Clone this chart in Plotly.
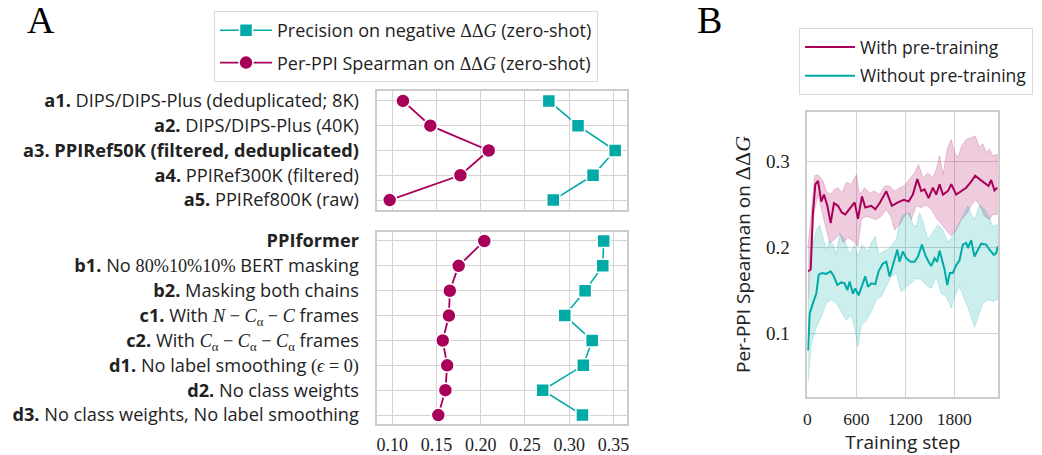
import plotly.graph_objects as go

# ---------------- data: panel A ----------------
upper_rows = [0, 1, 2, 3, 4]
lower_rows = [0, 1, 2, 3, 4, 5, 6, 7]

SERIF = "Liberation Serif"
def S(t):
    return "<span style='font-family:Liberation Serif'>" + t + "</span>"

upper_labels = [
    "<b>a1.</b> DIPS/DIPS-Plus (deduplicated; 8K)",
    "<b>a2.</b> DIPS/DIPS-Plus (40K)",
    "<b>a3. PPIRef50K (filtered, deduplicated)</b>",
    "<b>a4.</b> PPIRef300K (filtered)",
    "<b>a5.</b> PPIRef800K (raw)",
]
lower_labels = [
    "<b>PPIformer</b>",
    "<b>b1.</b> No " + S("80%10%10%") + " BERT masking",
    "<b>b2.</b> Masking both chains",
    "<b>c1.</b> With " + S("<i>N</i> − <i>C</i><sub>α</sub> − <i>C</i>") + " frames",
    "<b>c2.</b> With " + S("<i>C</i><sub>α</sub> − <i>C</i><sub>α</sub> − <i>C</i><sub>α</sub>") + " frames",
    "<b>d1.</b> No label smoothing " + S("(<i>ϵ</i> = 0)"),
    "<b>d2.</b> No class weights",
    "<b>d3.</b> No class weights, No label smoothing",
]

upper_spearman = [0.112, 0.143, 0.209, 0.177, 0.097]
upper_precision = [0.277, 0.310, 0.352, 0.327, 0.282]
lower_spearman = [0.204, 0.175, 0.165, 0.164, 0.157, 0.162, 0.160, 0.152]
lower_precision = [0.339, 0.338, 0.318, 0.295, 0.326, 0.316, 0.270, 0.315]

x_ticks_A = [0.10, 0.15, 0.20, 0.25, 0.30, 0.35]

# ---------------- data: panel B ----------------
pre_x = [8, 41, 69, 98, 131, 171, 204, 245, 286, 326, 375, 424, 465, 518, 579, 620, 669, 710, 783, 832,
         885, 967, 1036, 1110, 1183, 1240, 1293, 1347, 1396, 1436, 1485, 1538, 1579, 1620, 1661, 1722,
         1763, 1824, 1885, 1946, 2007, 2056, 2109, 2171, 2220, 2252, 2293, 2326]
pre_y = [0.172, 0.174, 0.240, 0.273, 0.277, 0.253, 0.261, 0.248, 0.228, 0.251, 0.248, 0.240, 0.238, 0.244,
         0.252, 0.233, 0.259, 0.246, 0.248, 0.244, 0.251, 0.265, 0.248, 0.252, 0.255, 0.253, 0.261, 0.279,
         0.265, 0.267, 0.257, 0.269, 0.261, 0.273, 0.261, 0.265, 0.273, 0.261, 0.265, 0.269, 0.276, 0.283,
         0.279, 0.275, 0.271, 0.278, 0.266, 0.269]
pre_hi_x = [8, 90, 131, 192, 233, 286, 335, 375, 424, 477, 538, 600, 640, 702, 763, 824, 885, 947, 1008,
            1069, 1130, 1191, 1253, 1314, 1363, 1416, 1477, 1538, 1579, 1620, 1661, 1714, 1763, 1804, 1844,
            1893, 1946, 2007, 2056, 2109, 2150, 2191, 2232, 2272, 2326]
pre_hi_y = [0.200, 0.283, 0.284, 0.277, 0.265, 0.261, 0.267, 0.269, 0.263, 0.275, 0.273, 0.284, 0.261,
            0.269, 0.263, 0.265, 0.261, 0.271, 0.271, 0.265, 0.269, 0.271, 0.279, 0.286, 0.296, 0.281,
            0.286, 0.281, 0.290, 0.306, 0.284, 0.314, 0.325, 0.310, 0.304, 0.318, 0.325, 0.327, 0.329,
            0.316, 0.320, 0.310, 0.314, 0.306, 0.308]
pre_lo_x = [8, 49, 90, 131, 192, 233, 274, 335, 396, 437, 498, 559, 620, 661, 722, 783, 845, 906, 967,
            1028, 1069, 1130, 1191, 1232, 1273, 1334, 1396, 1457, 1518, 1579, 1640, 1701, 1763, 1824, 1885,
            1946, 2007, 2056, 2109, 2171, 2232, 2272, 2326]
pre_lo_y = [0.140, 0.216, 0.244, 0.261, 0.236, 0.220, 0.205, 0.209, 0.216, 0.205, 0.211, 0.207, 0.201,
            0.232, 0.236, 0.234, 0.232, 0.236, 0.244, 0.234, 0.220, 0.226, 0.236, 0.240, 0.232, 0.248,
            0.246, 0.249, 0.244, 0.234, 0.226, 0.220, 0.213, 0.220, 0.232, 0.238, 0.248, 0.255, 0.249,
            0.236, 0.232, 0.238, 0.238]

nopre_x = [8, 29, 69, 110, 139, 180, 233, 286, 326, 367, 416, 457, 490, 518, 559, 588, 628, 661, 710, 743,
           783, 832, 873, 926, 967, 1008, 1061, 1102, 1130, 1171, 1212, 1265, 1314, 1355, 1404, 1444, 1485,
           1518, 1559, 1591, 1620, 1648, 1681, 1714, 1746, 1783, 1824, 1865, 1905, 1946, 1967, 2007, 2048,
           2089, 2130, 2191, 2232, 2285, 2313, 2334]
nopre_y = [0.080, 0.123, 0.135, 0.146, 0.168, 0.170, 0.169, 0.172, 0.166, 0.156, 0.159, 0.158, 0.150, 0.160,
           0.146, 0.152, 0.144, 0.152, 0.166, 0.154, 0.158, 0.157, 0.172, 0.181, 0.183, 0.166, 0.185, 0.197,
           0.183, 0.195, 0.187, 0.183, 0.183, 0.189, 0.203, 0.191, 0.183, 0.178, 0.187, 0.183, 0.196, 0.185,
           0.174, 0.156, 0.170, 0.170, 0.179, 0.185, 0.203, 0.205, 0.199, 0.208, 0.189, 0.197, 0.204, 0.203,
           0.197, 0.191, 0.193, 0.201]
nopre_hi_x = [8, 49, 110, 151, 192, 233, 274, 314, 355, 396, 457, 518, 579, 620, 669, 743, 783, 832, 873,
              926, 987, 1036, 1089, 1130, 1171, 1212, 1253, 1293, 1334, 1375, 1416, 1477, 1538, 1600, 1661,
              1722, 1783, 1844, 1905, 1967, 2007, 2048, 2109, 2171, 2232, 2272, 2326]
nopre_hi_y = [0.127, 0.197, 0.220, 0.226, 0.211, 0.197, 0.207, 0.203, 0.191, 0.216, 0.209, 0.191, 0.203,
              0.189, 0.203, 0.195, 0.205, 0.213, 0.191, 0.195, 0.197, 0.203, 0.209, 0.228, 0.238, 0.238,
              0.240, 0.226, 0.224, 0.240, 0.230, 0.209, 0.218, 0.226, 0.220, 0.205, 0.213, 0.224, 0.236,
              0.248, 0.238, 0.232, 0.249, 0.244, 0.234, 0.224, 0.226]
nopre_lo_x = [8, 49, 110, 171, 233, 294, 355, 416, 477, 538, 579, 620, 661, 722, 783, 845, 906, 967, 1028,
              1089, 1150, 1212, 1273, 1334, 1396, 1457, 1518, 1579, 1640, 1701, 1763, 1804, 1865, 1926, 1987,
              2048, 2089, 2150, 2211, 2272, 2326]
nopre_lo_y = [0.043, 0.088, 0.107, 0.119, 0.135, 0.139, 0.135, 0.125, 0.115, 0.121, 0.107, 0.084, 0.109,
              0.115, 0.125, 0.139, 0.143, 0.154, 0.166, 0.170, 0.148, 0.154, 0.158, 0.164, 0.162, 0.156,
              0.152, 0.166, 0.146, 0.143, 0.129, 0.143, 0.154, 0.139, 0.125, 0.107, 0.119, 0.135, 0.139,
              0.137, 0.139]

x_ticks_B = [0, 600, 1200, 1800]
y_ticks_B = [0.1, 0.2, 0.3]

# ---------------- styling ----------------
MAG = "#a8005a"
CYA = "#00aba7"
GRID = "#d3d3d3"
EDGE = "#cccccc"
SANS = "Open Sans"
TXT = "#222222"

fig = go.Figure()

# Panel A: upper
fig.add_trace(go.Scatter(x=upper_precision, y=upper_rows, mode="lines+markers",
                         name="Precision on negative " + S("ΔΔ<i>G</i>") + " (zero-shot)",
                         line=dict(color=CYA, width=1.6), legendgroup="prec",
                         marker=dict(symbol="square", size=13, color=CYA, line=dict(color="white", width=1.5)),
                         xaxis="x", yaxis="y", legend="legend"))
fig.add_trace(go.Scatter(x=upper_spearman, y=upper_rows, mode="lines+markers",
                         name="Per-PPI Spearman on " + S("ΔΔ<i>G</i>") + " (zero-shot)",
                         line=dict(color=MAG, width=1.8), legendgroup="spear",
                         marker=dict(symbol="circle", size=14, color=MAG, line=dict(color="white", width=1.5)),
                         xaxis="x", yaxis="y", legend="legend"))
# Panel A: lower
fig.add_trace(go.Scatter(x=lower_precision, y=lower_rows, mode="lines+markers", showlegend=False,
                         line=dict(color=CYA, width=1.6), legendgroup="prec",
                         marker=dict(symbol="square", size=13, color=CYA, line=dict(color="white", width=1.5)),
                         xaxis="x2", yaxis="y2"))
fig.add_trace(go.Scatter(x=lower_spearman, y=lower_rows, mode="lines+markers", showlegend=False,
                         line=dict(color=MAG, width=1.8), legendgroup="spear",
                         marker=dict(symbol="circle", size=14, color=MAG, line=dict(color="white", width=1.5)),
                         xaxis="x2", yaxis="y2"))

# Panel B: bands
fig.add_trace(go.Scatter(x=pre_hi_x + pre_lo_x[::-1], y=pre_hi_y + pre_lo_y[::-1], fill="toself",
                         fillcolor="rgba(168,0,90,0.2)", line=dict(color="rgba(168,0,90,0.25)", width=0.8),
                         mode="lines", showlegend=False, hoverinfo="skip", xaxis="x3", yaxis="y3"))
fig.add_trace(go.Scatter(x=nopre_hi_x + nopre_lo_x[::-1], y=nopre_hi_y + nopre_lo_y[::-1], fill="toself",
                         fillcolor="rgba(0,171,167,0.2)", line=dict(color="rgba(0,171,167,0.25)", width=0.8),
                         mode="lines", showlegend=False, hoverinfo="skip", xaxis="x3", yaxis="y3"))
fig.add_trace(go.Scatter(x=pre_x, y=pre_y, mode="lines", name="With pre-training", legendgroup="pre",
                         line=dict(color=MAG, width=2), xaxis="x3", yaxis="y3", legend="legend2"))
fig.add_trace(go.Scatter(x=nopre_x, y=nopre_y, mode="lines", name="Without pre-training", legendgroup="nopre",
                         line=dict(color=CYA, width=2), xaxis="x3", yaxis="y3", legend="legend2"))

axA = dict(range=[0.083, 0.365], tickvals=x_ticks_A, gridcolor=GRID, gridwidth=1, zeroline=False,
           showline=True, mirror=True, linecolor=EDGE, linewidth=1.5, domain=[0.3621, 0.6014],
           automargin=False)
ayA = dict(gridcolor=GRID, gridwidth=1, zeroline=False, showline=True, mirror=True, linecolor=EDGE,
           linewidth=1.5, tickfont=dict(family=SANS, size=18.2, color=TXT), ticklabelstandoff=13,
           automargin=False)

fig.update_layout(
    width=1042, height=455, margin=dict(l=0, r=0, t=0, b=0, autoexpand=False),
    paper_bgcolor="white", plot_bgcolor="white",
    font=dict(family=SANS, color=TXT),
    xaxis=dict(axA, anchor="y", showticklabels=False),
    yaxis=dict(ayA, domain=[0.5385, 0.8], range=[4.4, -0.4], tickvals=upper_rows, ticktext=upper_labels,
               anchor="x"),
    xaxis2=dict(axA, anchor="y2", tickformat=".2f", ticklabelstandoff=4,
                tickfont=dict(family=SERIF, size=18, color=TXT)),
    yaxis2=dict(ayA, domain=[0.0681, 0.4895], range=[7.36, -0.35], tickvals=lower_rows, ticktext=lower_labels,
                anchor="x2"),
    xaxis3=dict(domain=[0.7748, 0.9581], range=[0, 2340], tickvals=x_ticks_B, gridcolor=GRID, zeroline=False,
                showline=True, mirror=True, linecolor=EDGE, linewidth=1.5, anchor="y3", automargin=False,
                tickfont=dict(family=SERIF, size=17.5, color=TXT), ticklabelstandoff=5,
                title=dict(text="Training step", font=dict(family=SANS, size=19, color=TXT), standoff=5)),
    yaxis3=dict(domain=[0.1268, 0.7545], range=[0.0256, 0.3573], tickvals=y_ticks_B,
                ticktext=["0.1", "0.2", "0.3"], gridcolor=GRID, zeroline=False, automargin=False,
                showline=True, mirror=True, linecolor=EDGE, linewidth=1.5, anchor="x3",
                tickfont=dict(family=SERIF, size=19, color=TXT), ticklabelstandoff=12,
                title=dict(text="Per-PPI Spearman on <span style='font-family:Liberation Serif;font-size:22px'>ΔΔ<i>G</i></span>",
                           font=dict(family=SANS, size=19, color=TXT), standoff=10)),
    legend=dict(x=0.2054, y=1 - 11 / 455, xanchor="left", yanchor="top", bgcolor="white", itemwidth=52,
                tracegroupgap=6, bordercolor="#d9d9d9", borderwidth=1,
                font=dict(family=SANS, size=18, color=TXT)),
    legend2=dict(x=0.7668, y=1 - 28 / 455, xanchor="left", yanchor="top", bgcolor="white", itemwidth=50,
                 tracegroupgap=3, bordercolor="#d9d9d9", borderwidth=1,
                 font=dict(family=SANS, size=17.5, color=TXT)),
    annotations=[
        dict(text="A", x=41 / 1042, y=1 - 20 / 455, xref="paper", yref="paper", showarrow=False,
             xanchor="center", yanchor="middle", font=dict(family=SERIF, size=38, color="black")),
        dict(text="B", x=709 / 1042, y=1 - 20 / 455, xref="paper", yref="paper", showarrow=False,
             xanchor="center", yanchor="middle", font=dict(family=SERIF, size=38, color="black")),
    ],
)

fig.write_html("out.html")
